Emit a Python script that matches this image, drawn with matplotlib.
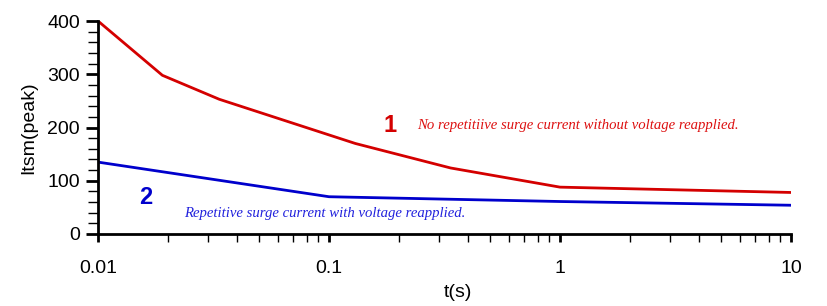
import numpy as np
import matplotlib.pyplot as plt
from matplotlib.ticker import FixedLocator, LogLocator, NullFormatter, MultipleLocator

""" Surge current rating vs time (log time axis) """

# Curve 1: no repetitive surge current without voltage reapplied
t_red = [0.01, 0.019, 0.0335, 0.13, 0.336, 1.0, 10.0]
i_red = [400, 298, 253, 170, 124, 88, 78]

# Curve 2: repetitive surge current with voltage reapplied
t_blue = [0.01, 0.1, 1.0, 10.0]
i_blue = [135, 70, 61, 54]

xticks = [0.01, 0.1, 1, 10]
xtick_labels = ['0.01', '0.1', '1', '10']
yticks = [0, 100, 200, 300, 400]

plt.rcParams['font.family'] = ['Liberation Sans', 'DejaVu Sans']

fig = plt.figure(figsize=(8.28, 3.06), dpi=100)
ax = fig.add_axes([98 / 828, 72 / 306, 693 / 828, 213 / 306])

ax.plot(t_red, i_red, color='#d40000', linewidth=2, solid_joinstyle='round')
ax.plot(t_blue, i_blue, color='#0000cc', linewidth=2, solid_joinstyle='round')

ax.set_xscale('log')
ax.set_xlim(0.01, 10)
ax.set_ylim(0, 400)

# ticks
ax.xaxis.set_major_locator(FixedLocator(xticks))
ax.set_xticklabels(xtick_labels)
ax.xaxis.set_minor_locator(LogLocator(base=10, subs=np.arange(2, 10)))
ax.xaxis.set_minor_formatter(NullFormatter())
ax.set_yticks(yticks)
ax.yaxis.set_minor_locator(MultipleLocator(20))

ax.tick_params(axis='both', which='major', labelsize=14, color='black')
ax.tick_params(axis='x', which='major', length=6, width=2, pad=13)
ax.tick_params(axis='x', which='minor', length=6, width=1)
ax.tick_params(axis='y', which='major', length=9, width=2, pad=4)
ax.tick_params(axis='y', which='minor', length=7, width=1)

for side in ['top', 'right']:
    ax.spines[side].set_visible(False)
for side in ['left', 'bottom']:
    ax.spines[side].set_linewidth(2)

ax.set_xlabel('t(s)', fontsize=14)
ax.xaxis.set_label_coords((458 - 98) / 693, -(284 - 234) / 213)
ax.set_ylabel('Itsm(peak)', fontsize=14)
ax.yaxis.set_label_coords(-(98 - 37) / 693, 0.5)

# annotations
ax.text(0.184, 203, '1', color='#d40000', fontsize=17, fontweight='bold',
        ha='center', va='center')
ax.text(0.240, 203, 'No repetitiive surge current without voltage reapplied.',
        color='#dd1111', fontsize=10.6, style='italic', family='Liberation Serif',
        ha='left', va='center')
ax.text(0.0161, 69, '2', color='#0000cc', fontsize=17, fontweight='bold',
        ha='center', va='center')
ax.text(0.0236, 39, 'Repetitive surge current with voltage reapplied.',
        color='#2222dd', fontsize=10.6, style='italic', family='Liberation Serif',
        ha='left', va='center')

plt.savefig('out.png', dpi=100)
